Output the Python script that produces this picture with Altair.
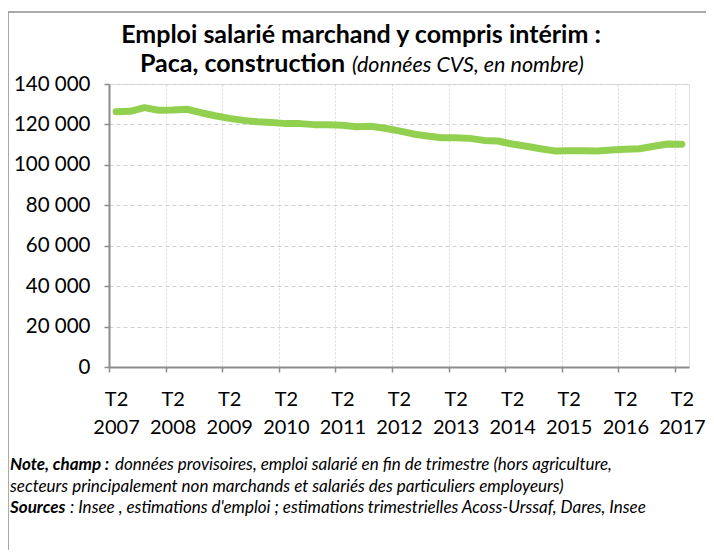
import json
import altair as alt
import pandas as pd

# ---- data ----
year_labels = ["2007", "2008", "2009", "2010", "2011", "2012", "2013", "2014", "2015", "2016", "2017"]
quarter_label = "T2"
values = [126300, 126500, 128300, 127000, 127100, 127500, 125800, 124300, 123000, 122000,
          121300, 120900, 120400, 120400, 119900, 119900, 119600, 118900, 119100, 118100,
          116800, 115300, 114300, 113400, 113400, 113100, 112100, 111800, 110300, 109200,
          108000, 106900, 107000, 107000, 106900, 107400, 107700, 108000, 109200, 110300,
          110200]
y_ticks = [0, 20000, 40000, 60000, 80000, 100000, 120000, 140000]

title_line1 = "Emploi salarié marchand y compris intérim :"
title_line2_bold = "Paca, construction"
title_line2_ital = "(données CVS, en nombre)"
note_bold = "Note, champ :"
note_rest = "données provisoires, emploi salarié en fin de trimestre (hors agriculture,"
note_line2 = "secteurs principalement non marchands et salariés des particuliers employeurs)"
src_bold = "Sources"
src_rest = ": Insee , estimations d'emploi ; estimations trimestrielles Acoss-Urssaf, Dares, Insee"

df = pd.DataFrame({"idx": list(range(len(values))), "value": values})
n = len(values)

FONT = "Lato"
W, H = 580, 283

tick_vals = []
for k in range(len(year_labels)):
    tick_vals.append(4 * k - 0.5)
    tick_vals.append(4 * k)

label_expr = ("datum.value % 1 == 0 ? ['" + quarter_label + "', " + json.dumps(year_labels)
              + "[datum.value / 4]] : ''")

x_enc = alt.X(
    "idx:Q",
    scale=alt.Scale(domain=[-0.5, n - 0.5], nice=False, zero=False),
    axis=alt.Axis(
        values=tick_vals,
        labelExpr=label_expr,
        title=None,
        labelOverlap=False,
        labelFlush=False,
        labelFont=FONT,
        labelFontSize=20,
        labelColor="#000000",
        labelPadding=17,
        labelLineHeight=28,
        tickSize=5,
        tickColor="#8c8c8c",
        tickWidth=1.5,
        tickOpacity={"condition": {"test": "datum.value % 1 != 0", "value": 1}, "value": 0},
        grid=True,
        gridColor="#d9d9d9",
        gridDash=[2, 2],
        gridWidth=1,
        gridOpacity={"condition": {"test": "datum.value % 1 != 0", "value": 1}, "value": 0},
        domainColor="#8c8c8c",
        domainWidth=2,
    ),
)

y_enc = alt.Y(
    "value:Q",
    scale=alt.Scale(domain=[0, 140000], nice=False),
    axis=alt.Axis(
        values=y_ticks,
        labelExpr="replace(format(datum.value, ','), ',', ' ')",
        title=None,
        labelFont=FONT,
        labelFontSize=20.5,
        labelColor="#000000",
        labelPadding=14,
        tickSize=5,
        tickColor="#8c8c8c",
        tickWidth=1.5,
        grid=True,
        gridColor="#d0d0d0",
        gridDash=[4, 3],
        gridWidth=1,
        domainColor="#8c8c8c",
        domainWidth=2,
    ),
)

line = alt.Chart(df).mark_line(color="#92d050", strokeWidth=7, strokeCap="round",
                               strokeJoin="round").encode(x=x_enc, y=y_enc)

one = pd.DataFrame({"a": [0]})

def txt(s, x, y, size, weight="normal", style="normal", align="left"):
    return alt.Chart(one).mark_text(
        text=s, font=FONT, fontSize=size, fontWeight=weight, fontStyle=style,
        align=align, baseline="alphabetic", color="#000000"
    ).encode(x=alt.value(x), y=alt.value(y))

FS = 17
t1 = txt(title_line1, 252, -41, 25, weight="bold", align="center")
t2a = txt(title_line2_bold, 236, -12, 25, weight="bold", align="right")
t2b = txt(title_line2_ital, 243, -12, 21.5, style="italic", align="left")
n1a = txt(note_bold, -99, 386, FS, weight="bold", style="italic")
n1b = txt(note_rest, 6, 386, FS, style="italic")
n2 = txt(note_line2, -99, 408, FS, style="italic")
n3a = txt(src_bold, -99, 429, FS, weight="bold", style="italic")
n3b = txt(src_rest, -39, 429, FS, style="italic")

border_left = alt.Chart(one).mark_rule(color="#8c8c8c", strokeWidth=1.5).encode(
    x=alt.value(-101), y=alt.value(-72), y2=alt.value(470))
border_top = alt.Chart(one).mark_rule(color="#8c8c8c", strokeWidth=1.5).encode(
    x=alt.value(-101), x2=alt.value(620), y=alt.value(-72))

chart = alt.layer(
    border_left, border_top, line, t1, t2a, t2b, n1a, n1b, n2, n3a, n3b
).properties(
    width=W, height=H,
    autosize=alt.AutoSizeParams(type="none"),
    padding={"left": 101, "top": 76, "right": 17, "bottom": 183},
).configure_view(stroke=None).configure(background="white")

chart.save("out.html", embed_options={"renderer": "svg", "actions": False})
